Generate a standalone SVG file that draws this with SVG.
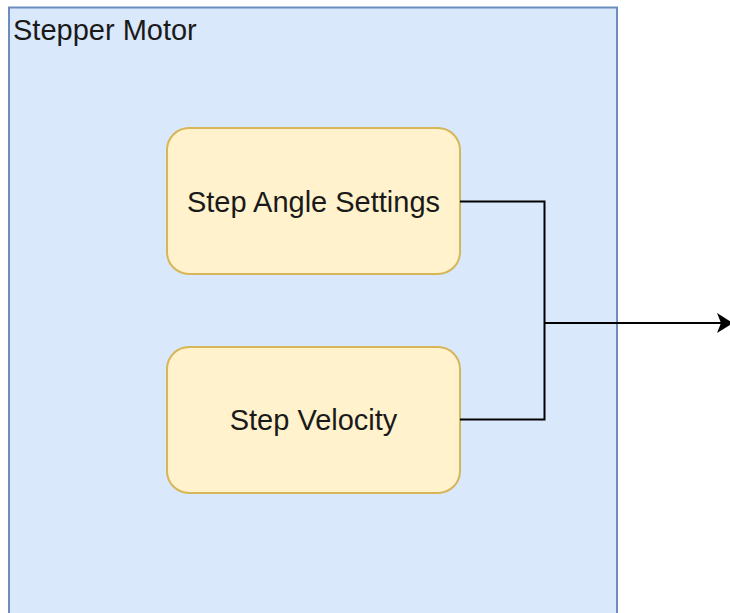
<svg xmlns="http://www.w3.org/2000/svg" width="730" height="613" viewBox="0 0 730 613">
  <defs>
    <style>
      .container { fill: #dae8fc; stroke: #6c8ebf; stroke-width: 2; }
      .block { fill: #fff2cc; stroke: #d6b656; stroke-width: 2; }
      .label { font-family: "Liberation Sans", Arial, Helvetica, sans-serif; font-size: 29px; fill: #1a1a1a; }
      .wire { fill: none; stroke: #000000; stroke-width: 2; }
    </style>
    <marker id="arrow" markerWidth="17" markerHeight="20" refX="16" refY="10" orient="auto" markerUnits="userSpaceOnUse">
      <path d="M0,0 L16,10 L0,20 L4,10 Z" fill="#000000"/>
    </marker>
  </defs>
  <rect width="730" height="613" fill="#ffffff"/>

  <g id="stepper-motor">
    <rect class="container" x="9" y="7.5" width="608" height="620"/>
    <text class="label" x="13" y="40">Stepper Motor</text>
  </g>

  <g id="step-angle-settings">
    <rect class="block" x="167" y="128" width="293" height="146" rx="22" ry="22"/>
    <text class="label" x="313.5" y="212" text-anchor="middle">Step Angle Settings</text>
  </g>

  <g id="step-velocity">
    <rect class="block" x="167" y="347" width="293" height="146" rx="22" ry="22"/>
    <text class="label" x="313.5" y="430" text-anchor="middle">Step Velocity</text>
  </g>

  <g id="connectors">
    <polyline class="wire" points="460,201.5 544.5,201.5 544.5,419.5 460,419.5"/>
    <line class="wire" x1="544.5" y1="323" x2="733" y2="323" marker-end="url(#arrow)"/>
  </g>
</svg>
